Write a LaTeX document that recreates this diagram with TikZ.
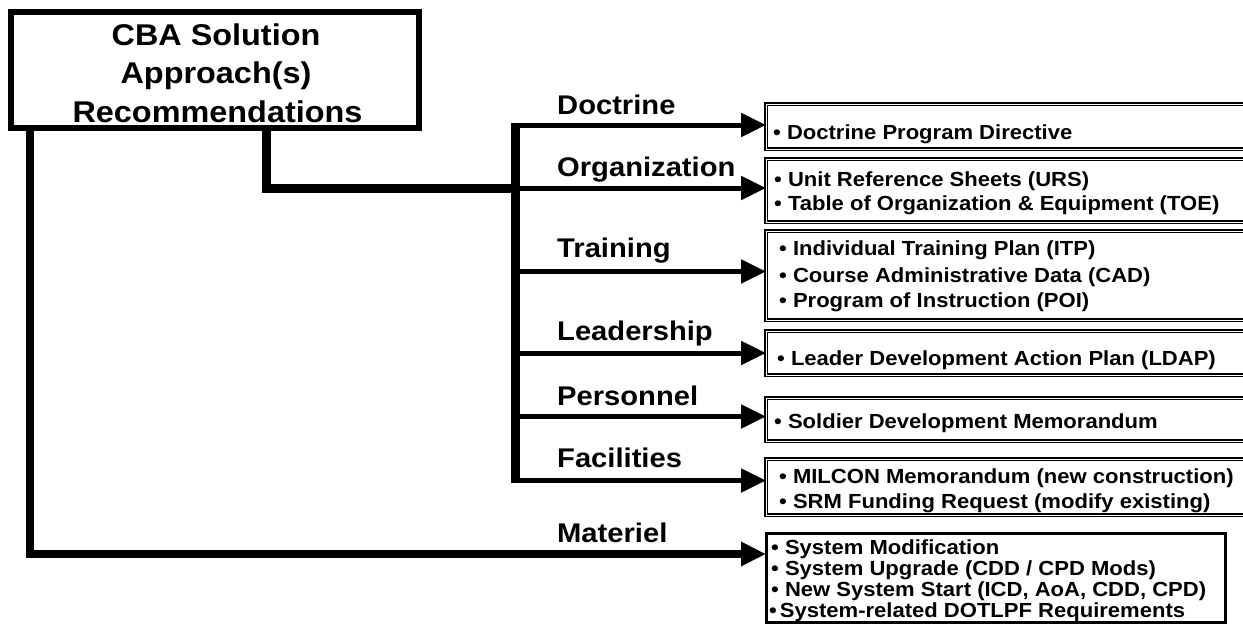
\documentclass[tikz,border=0pt]{standalone}
\usepackage{fontspec}
\setmainfont{Liberation Sans}[FakeStretch=1.08]
\usetikzlibrary{arrows.meta}
\begin{document}
\begin{tikzpicture}[x=1pt,y=-1pt,
  titlebox/.style={draw, line width=6pt, minimum width=408pt, minimum height=116pt, inner sep=0pt, outer sep=0pt},
  ttl/.style={anchor=base, inner sep=0pt, font=\bfseries\fontsize{30}{36}\selectfont},
  lab/.style={anchor=base west, inner sep=0pt, font=\bfseries\fontsize{27}{30}\selectfont},
  bt/.style={anchor=base west, inner sep=0pt, font=\bfseries\fontsize{20.4}{21}\selectfont},
  rbox/.style={draw, double, line width=1.3pt, double distance=0.6pt, minimum width=600pt, inner sep=0pt, outer sep=0pt, anchor=north west},
  mbox/.style={draw, line width=3pt, minimum width=459pt, minimum height=89pt, inner sep=0pt, outer sep=0pt, anchor=north west},
  trunk/.style={line width=9pt, line join=miter},
  arr/.style={line width=5pt, -{Triangle[length=25pt,width=23pt]}},
  mline/.style={line width=8.5pt, line join=miter, -{Triangle[length=25pt,width=23pt]}}
]
\clip (0,0) rectangle (1243,625);
\fill[white] (0,0) rectangle (1243,625);

% title
\node[titlebox] (title) at (215,70) {};
\node[ttl] (ttl1) at (216,45) {CBA Solution};
\node[ttl] (ttl2) at (216,83.5) {Approach(s)};
\node[ttl] (ttl3) at (217.5,122) {Recommendations};

% right boxes
\node[rbox, minimum height=45pt] (doc) at (766,104) {};
\node[rbox, minimum height=63pt] (org) at (766,159) {};
\node[rbox, minimum height=89pt] (trn) at (766,231) {};
\node[rbox, minimum height=44pt] (ldr) at (766,331) {};
\node[rbox, minimum height=43pt] (per) at (766,398) {};
\node[rbox, minimum height=56pt] (fac) at (766,459) {};
\node[mbox] (mat) at (766,533) {};

% box texts
\node[bt] (docA) at (773,139) {• Doctrine Program Directive};
\node[bt] (orgA) at (774,186) {• Unit Reference Sheets (URS)};
\node[bt] (orgB) at (774,210) {• Table of Organization \& Equipment (TOE)};
\node[bt] (trnA) at (779,255) {• Individual Training Plan (ITP)};
\node[bt] (trnB) at (779,282) {• Course Administrative Data (CAD)};
\node[bt] (trnC) at (779,307) {• Program of Instruction (POI)};
\node[bt] (ldrA) at (777,365) {• Leader Development Action Plan (LDAP)};
\node[bt] (perA) at (774,428) {• Soldier Development Memorandum};
\node[bt] (facA) at (779,483) {• MILCON Memorandum (new construction)};
\node[bt] (facB) at (779,508) {• SRM Funding Request (modify existing)};
\node[bt] (matA) at (771,554) {• System Modification};
\node[bt] (matB) at (771,575) {• System Upgrade (CDD / CPD Mods)};
\node[bt] (matC) at (771,596) {• New System Start (ICD, AoA, CDD, CPD)};
\node[bt] (matD) at (769,617) {•\hspace{3pt}System-related DOTLPF Requirements};

% labels
\node[lab] (lDoc) at (557,114) {Doctrine};
\node[lab] (lOrg) at (557,176) {Organization};
\node[lab] (lTrn) at (557,257) {Training};
\node[lab] (lLdr) at (557,340) {Leadership};
\node[lab] (lPer) at (557,405) {Personnel};
\node[lab] (lFac) at (557,467) {Facilities};
\node[lab] (lMat) at (557,542) {Materiel};

% connector points
\coordinate (hub) at (515,188);
\coordinate (trunkTop) at (515,122.5);
\coordinate (trunkBot) at (515,483);
\coordinate (tD) at (515,125);
\coordinate (tT) at (515,271.5);
\coordinate (tL) at (515,353);
\coordinate (tP) at (515,416.5);
\coordinate (tF) at (515,480.5);
\coordinate (mA) at (0,554);

% connectors
\draw[trunk] ([xshift=255pt]title.south west) |- (hub);
\draw[trunk] (trunkTop) -- (trunkBot);
\draw[arr] (tD) -- (tD -| doc.west);
\draw[arr] (hub) -- (hub -| org.west);
\draw[arr] (tT) -- (tT -| trn.west);
\draw[arr] (tL) -- (tL -| ldr.west);
\draw[arr] (tP) -- (tP -| per.west);
\draw[arr] (tF) -- (tF -| fac.west);
\draw[mline] ([xshift=19pt]title.south west) |- (mat.west |- mA);
\end{tikzpicture}
\end{document}
